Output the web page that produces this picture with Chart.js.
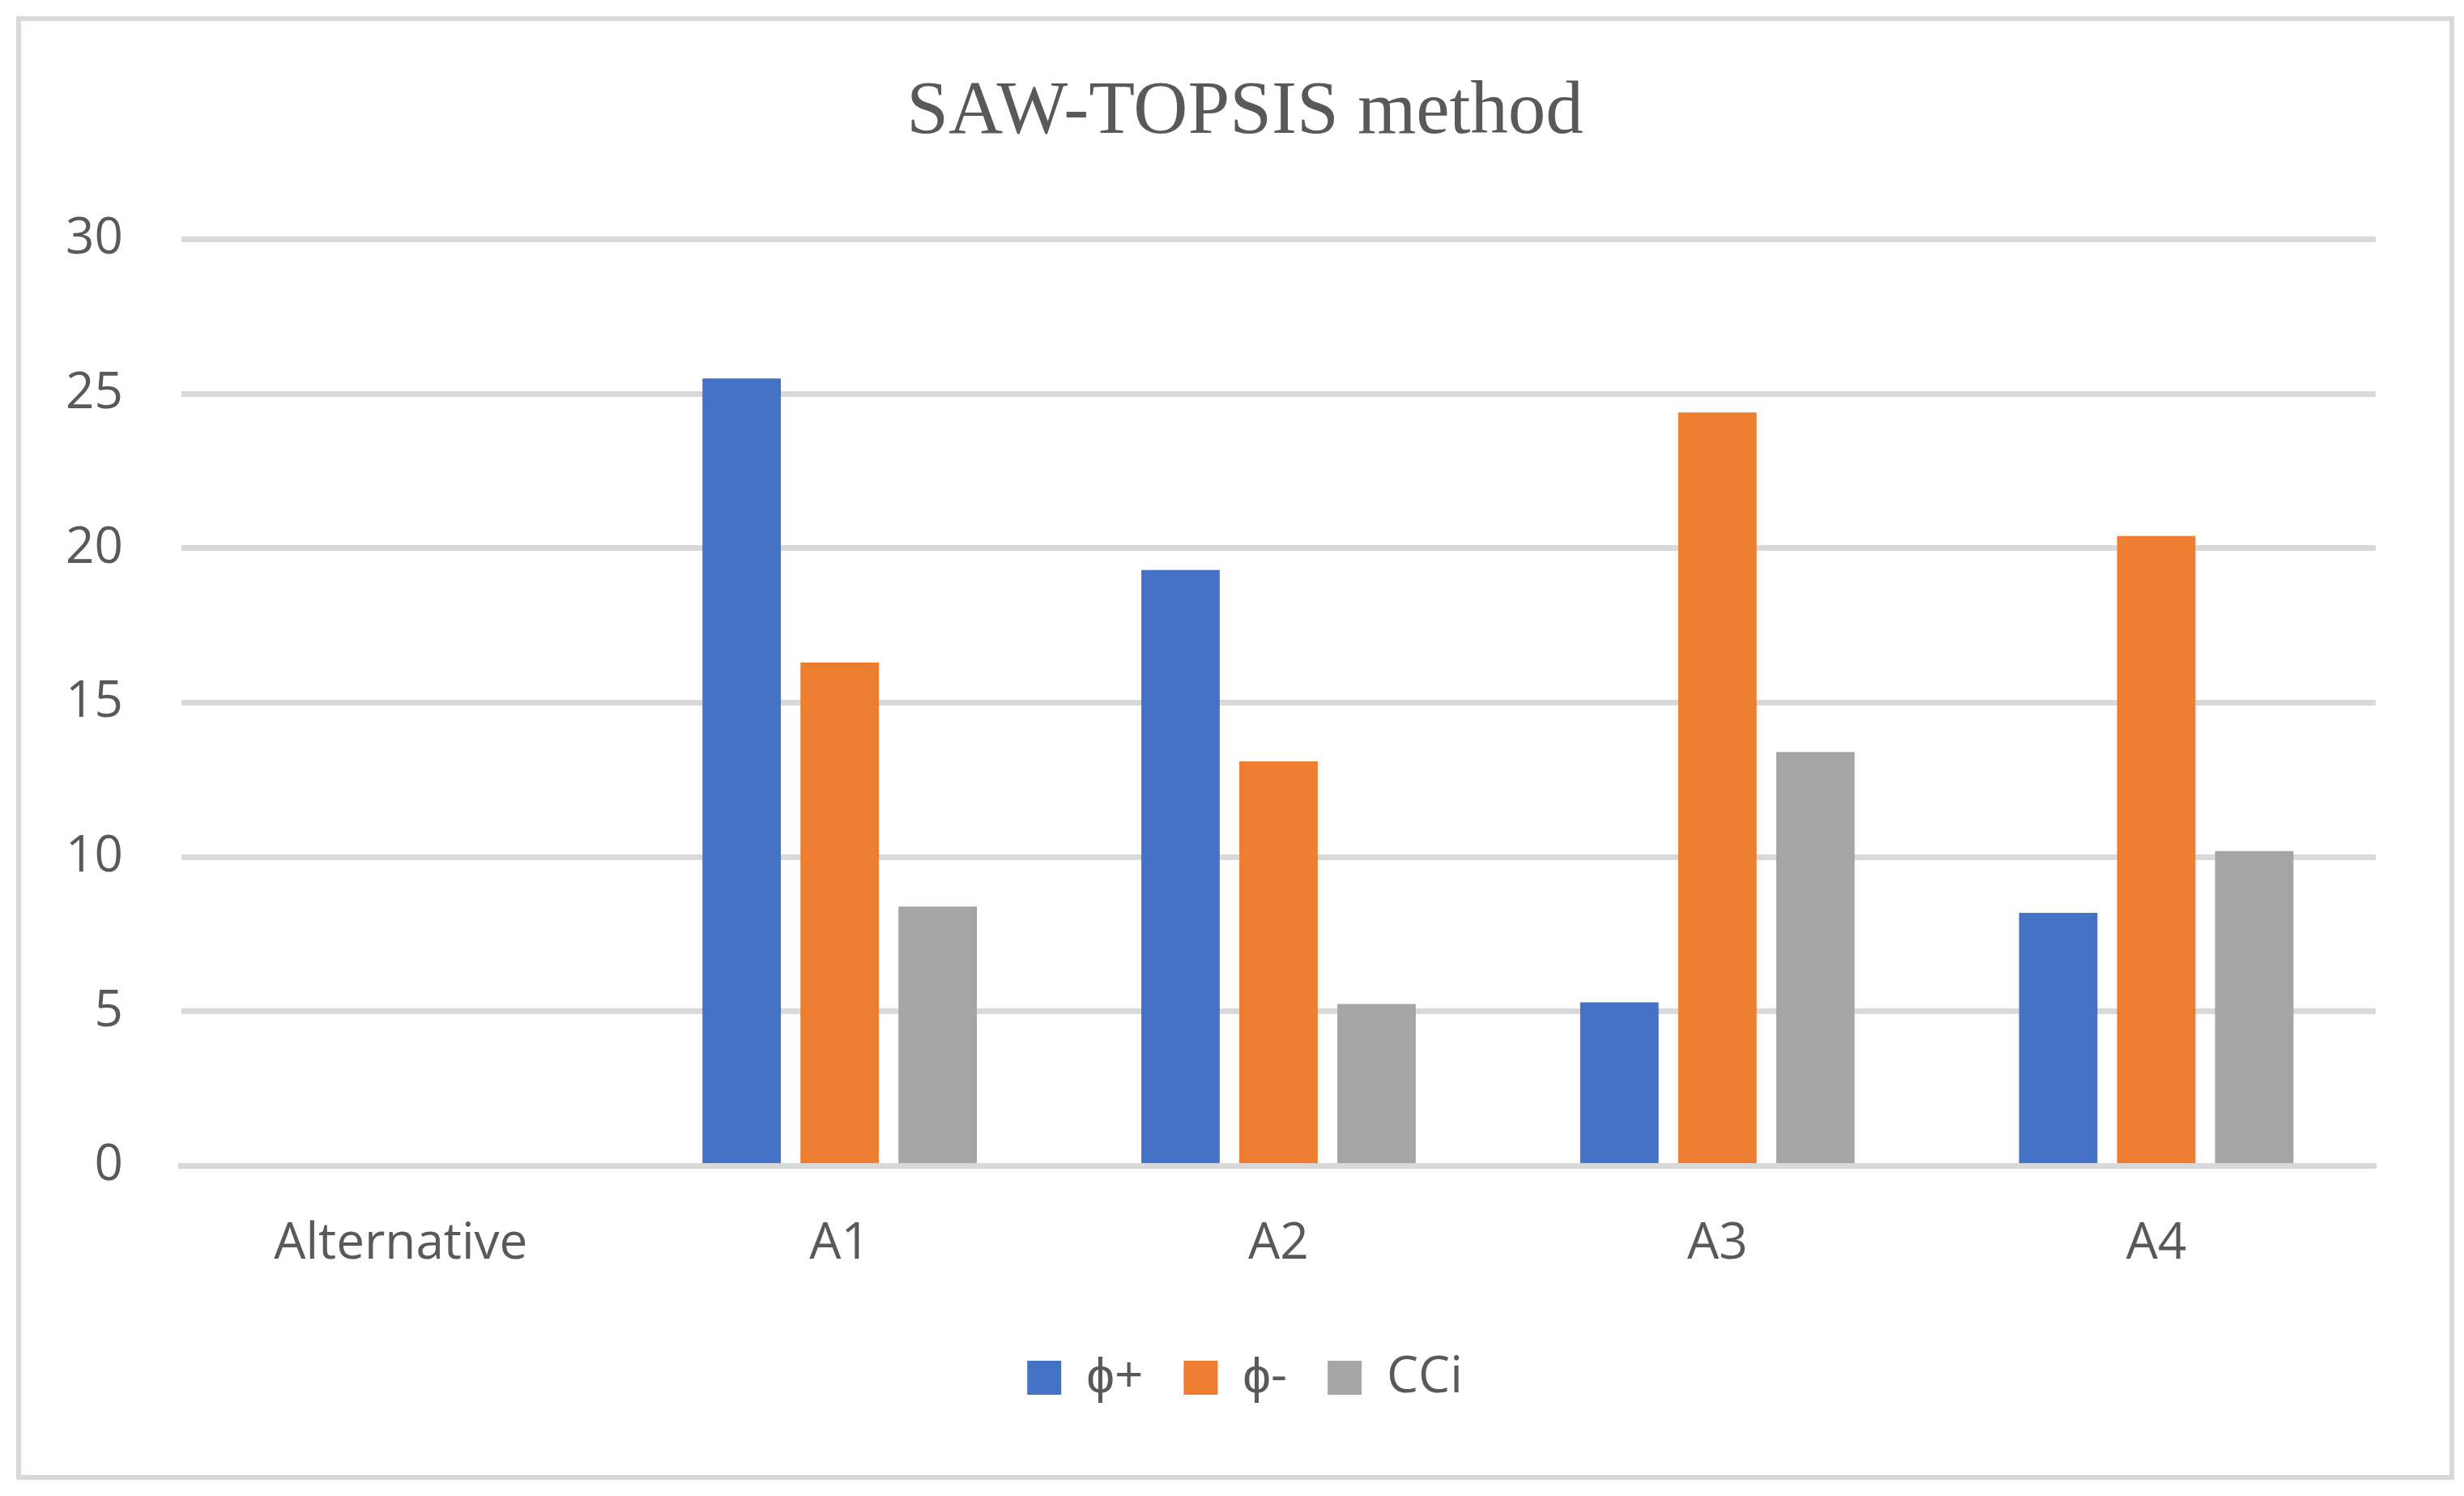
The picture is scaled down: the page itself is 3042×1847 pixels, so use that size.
<!DOCTYPE html>
<html>
<head>
<meta charset="utf-8">
<script src="https://cdn.jsdelivr.net/npm/chart.js@4.4.0/dist/chart.umd.min.js"></script>
<style>
  body { margin: 0; background: #fff; }
  #box {
    position: absolute; left: 20px; top: 20px;
    width: 3010px; height: 1807px;
    border: 6px solid #d9d9d9; box-sizing: border-box;
  }
</style>
</head>
<body>
<div id="box"><canvas id="myChart"></canvas></div>
<script>
// values
var labels = ['Alternative', 'A1', 'A2', 'A3', 'A4'];
var phiPlus = [null, 25.5, 19.3, 5.3, 8.2];
var phiMinus = [null, 16.3, 13.1, 24.4, 20.4];
var cci = [null, 8.4, 5.25, 13.4, 10.2];
var yTicks = [0, 5, 10, 15, 20, 25, 30];

var grey = '#595959';

// title and legend sit a bit right of the canvas centre in the original
var centreShift = {
  id: 'centreShift',
  afterLayout: function(chart){
    if (chart.titleBlock) chart.titleBlock.left += 63;
    if (chart.legend) chart.legend.left += 63;
  }
};

function init(){
  var ctx = document.getElementById('myChart').getContext('2d');
  var chart = new Chart(ctx, {
    type: 'bar',
    data: {
      labels: labels,
      datasets: [
        { label: 'ϕ+', data: phiPlus, backgroundColor: '#4472C4' },
        { label: 'ϕ-', data: phiMinus, backgroundColor: '#ED7D31' },
        { label: 'CCi', data: cci, backgroundColor: '#A5A5A5' }
      ]
    },
    plugins: [centreShift],
    options: {
      responsive: true,
      maintainAspectRatio: false,
      animation: false,
      devicePixelRatio: 1,
      categoryPercentage: 0.67,
      barPercentage: 0.8,
      layout: { padding: { left: 52, right: 91, top: 0, bottom: 79 } },
      plugins: {
        title: {
          display: true,
          text: 'SAW-TOPSIS method',
          color: grey,
          font: { family: '"Liberation Serif", "Times New Roman", serif', size: 93, weight: 'normal' },
          padding: { top: 58, bottom: 100 }
        },
        legend: {
          position: 'bottom',
          labels: {
            color: grey,
            boxWidth: 42,
            boxHeight: 42,
            padding: 50,
            font: { family: '"Open Sans", sans-serif', size: 62 }
          }
        },
        tooltip: { enabled: false }
      },
      scales: {
        x: {
          grid: { display: false, drawTicks: false },
          border: { display: true, color: '#d9d9d9', width: 7 },
          ticks: { color: grey, padding: 60, font: { family: '"Open Sans", sans-serif', size: 62 } },
          afterFit: function(axis){ axis.height -= 14; }
        },
        y: {
          min: 0,
          max: 30,
          afterBuildTicks: function(axis){
            axis.ticks = yTicks.map(function(v){ return { value: v }; });
          },
          grid: { color: '#d9d9d9', lineWidth: 7, drawTicks: false },
          border: { display: false },
          ticks: { color: grey, padding: 72, font: { family: '"Open Sans", sans-serif', size: 62 } },
          afterFit: function(axis){ axis.width -= 69; }
        }
      }
    }
  });
}

init();
</script>
</body>
</html>
